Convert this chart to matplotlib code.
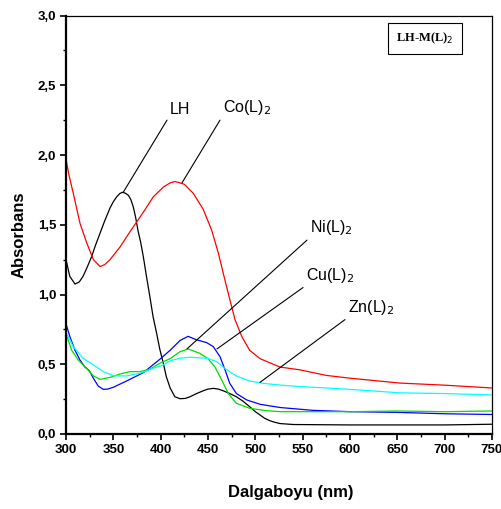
import matplotlib
matplotlib.use("Agg")
import matplotlib.pyplot as plt
from matplotlib.ticker import MultipleLocator, FuncFormatter
from matplotlib import font_manager

names = {f.name for f in font_manager.fontManager.ttflist}
narrow = 'Liberation Sans Narrow' if 'Liberation Sans Narrow' in names else 'Liberation Sans'

# ---- data ----
lh_x = [300, 304, 309.5, 314, 318, 322, 327, 331, 336, 341, 346.5, 350, 353.5, 357, 360, 363, 366, 368.5, 371, 373.5, 376, 379, 381.7, 385, 388.7, 392, 395.8, 399, 402.8, 406, 410, 415, 420.4, 426, 431, 438, 445, 450, 455.6, 461, 466, 473, 480, 487, 494, 500, 505, 510, 515.5, 520, 526, 540, 600, 650, 700, 750]
lh_y = [1.25, 1.13, 1.075, 1.09, 1.13, 1.19, 1.27, 1.35, 1.44, 1.53, 1.62, 1.665, 1.70, 1.725, 1.733, 1.725, 1.71, 1.68, 1.63, 1.555, 1.46, 1.37, 1.27, 1.13, 0.98, 0.84, 0.72, 0.61, 0.507, 0.41, 0.33, 0.267, 0.253, 0.255, 0.267, 0.29, 0.31, 0.322, 0.327, 0.322, 0.31, 0.29, 0.267, 0.235, 0.196, 0.16, 0.136, 0.112, 0.095, 0.085, 0.075, 0.068, 0.065, 0.065, 0.065, 0.07]

co_x = [300, 303, 307.7, 314.8, 321.9, 328.9, 336, 341, 346.5, 357, 367.6, 381.7, 392.2, 402.8, 410, 415, 420.4, 425, 434.5, 445, 453.9, 461, 468, 473.2, 478.5, 485.6, 494, 505, 515.5, 526, 547, 575, 600, 653, 700, 750]
co_y = [1.97, 1.86, 1.725, 1.51, 1.37, 1.25, 1.20, 1.215, 1.25, 1.34, 1.45, 1.59, 1.70, 1.77, 1.80, 1.81, 1.80, 1.79, 1.725, 1.61, 1.46, 1.295, 1.10, 0.96, 0.82, 0.70, 0.60, 0.54, 0.51, 0.48, 0.46, 0.42, 0.40, 0.365, 0.35, 0.33]

ni_x = [300, 304, 309.5, 314.8, 320, 324.6, 328.9, 334, 339.4, 344, 350, 364, 381.7, 399, 410, 420.4, 429, 438, 448.6, 455.6, 462.7, 468, 473, 480, 491, 505, 526, 560, 600, 650, 700, 750]
ni_y = [0.79, 0.70, 0.60, 0.53, 0.48, 0.454, 0.40, 0.344, 0.32, 0.322, 0.335, 0.38, 0.44, 0.535, 0.60, 0.67, 0.70, 0.675, 0.655, 0.626, 0.554, 0.46, 0.363, 0.29, 0.244, 0.213, 0.19, 0.17, 0.16, 0.155, 0.145, 0.14]

cu_x = [300, 306, 313, 321.9, 328.9, 336, 346.5, 357, 367.6, 378, 388.7, 399, 410, 420.4, 429, 441.5, 450, 457.4, 464.5, 471.5, 480, 494, 512, 526, 560, 600, 650, 700, 750]
cu_y = [0.72, 0.60, 0.53, 0.47, 0.416, 0.392, 0.406, 0.43, 0.447, 0.447, 0.464, 0.507, 0.54, 0.59, 0.609, 0.578, 0.54, 0.48, 0.387, 0.29, 0.22, 0.184, 0.167, 0.16, 0.16, 0.16, 0.165, 0.16, 0.165]

zn_x = [300, 307.7, 318, 328.9, 339.4, 350, 364, 378, 392, 402.8, 410, 420.4, 431, 448.6, 459, 469.8, 480, 494, 508.4, 526, 547, 575, 600, 653, 700, 750]
zn_y = [0.73, 0.626, 0.543, 0.495, 0.447, 0.418, 0.416, 0.435, 0.47, 0.495, 0.525, 0.543, 0.55, 0.543, 0.52, 0.46, 0.416, 0.38, 0.363, 0.351, 0.34, 0.33, 0.32, 0.295, 0.29, 0.28]

series_names = ['LH', 'Co(L)$_2$', 'Ni(L)$_2$', 'Cu(L)$_2$', 'Zn(L)$_2$']
series_colors = ['black', 'red', 'blue', '#00dd00', 'cyan']

# label text positions and the curve points their leader lines point to
label_text_xy = [(406.7, 2.25), (462.7, 2.25), (554.6, 1.39), (550.4, 1.05), (594.7, 0.82)]
label_point_xy = [(360.2, 1.73), (422.5, 1.80), (427.8, 0.61), (459.5, 0.61), (504.9, 0.37)]

x_ticks = [300, 350, 400, 450, 500, 550, 600, 650, 700, 750]
y_ticks = [0.0, 0.5, 1.0, 1.5, 2.0, 2.5, 3.0]

fig = plt.figure(figsize=(5.02, 5.09), dpi=100)
ax = fig.add_axes([66/502, 1-434/509, (492-66)/502, (434-15.5)/509])

xs = [lh_x, co_x, ni_x, cu_x, zn_x]
ys = [lh_y, co_y, ni_y, cu_y, zn_y]
for x, y, c in zip(xs, ys, series_colors):
    ax.plot(x, y, color=c, lw=0.9, solid_joinstyle='round')

for name, (tx, ty), (px, py) in zip(series_names, label_text_xy, label_point_xy):
    ax.annotate('', xy=(px, py), xytext=(tx, ty),
                arrowprops=dict(arrowstyle='-', color='black', lw=0.8, shrinkA=0, shrinkB=0))
    ax.text(tx + 3, ty + 0.02, name, fontsize=11.5, family=[narrow, 'DejaVu Sans'],
            ha='left', va='bottom')

ax.text(679, 2.835, r'LH-M(L)$_2$', fontsize=9, fontweight='bold',
        family='Liberation Serif', ha='center', va='center',
        bbox=dict(boxstyle='square,pad=0.65', fc='white', ec='black', lw=0.8))

ax.set_xlim(300, 750)
ax.set_ylim(0, 3.0)
ax.set_xticks(x_ticks)
ax.set_yticks(y_ticks)
ax.xaxis.set_minor_locator(MultipleLocator(25))
ax.yaxis.set_minor_locator(MultipleLocator(0.25))
ax.yaxis.set_major_formatter(FuncFormatter(lambda v, p: f'{v:.1f}'.replace('.', ',')))
ax.tick_params(which='major', direction='out', length=4, width=1.2, labelsize=9.5, pad=3)
ax.tick_params(which='minor', direction='out', length=2.5, width=1)
for lab in ax.get_xticklabels() + ax.get_yticklabels():
    lab.set_fontweight('bold')
    lab.set_family(narrow)

for s in ['left', 'bottom']:
    ax.spines[s].set_linewidth(1.6)
for s in ['top', 'right']:
    ax.spines[s].set_linewidth(0.9)

ax.set_xlabel('Dalgaboyu (nm)', fontsize=12, fontweight='bold', family='Liberation Sans')
ax.set_ylabel('Absorbans', fontsize=12, fontweight='bold', family='Liberation Sans')
ax.xaxis.set_label_coords((291-66)/426, -(485-434)/418.5)
ax.yaxis.set_label_coords(-(66-27)/426, (434-235)/418.5)

fig.savefig('out.png', dpi=100)
